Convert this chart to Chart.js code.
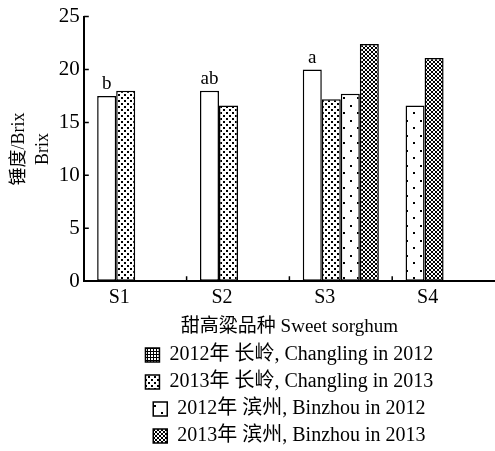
<!DOCTYPE html>
<html>
<head>
<meta charset="utf-8">
<script src="https://cdn.jsdelivr.net/npm/chart.js"></script>
<style>
html, body { margin: 0; padding: 0; background: #fff; }
#wrap { width: 495px; height: 451px; }
</style>
</head>
<body>
<div id="wrap"><canvas id="BarChart"></canvas></div>
<script>
var categories = ['S1', 'S2', 'S3', 'S4'];
var seriesNames = [
    '2012年 长岭, Changling in 2012',
    '2013年 长岭, Changling in 2013',
    '2012年 滨州, Binzhou in 2012',
    '2013年 滨州, Binzhou in 2013'
];
var changling2012 = [17.5, 18.0, 20.0, null];
var changling2013 = [18.0, 16.6, 17.2, null];
var binzhou2012 = [null, null, 17.7, 16.6];
var binzhou2013 = [null, null, 22.4, 21.1];
var letters = ['b', 'ab', 'a', ''];
var yTicks = [0, 5, 10, 15, 20, 25];

var FONT = '"Liberation Serif", "Noto Sans CJK SC", serif';

var canvas = document.getElementById('BarChart');
var mainCtx = canvas.getContext('2d');

// small tiles for the hatch fills
function makePattern(w, h, draw) {
    var c = document.createElement('canvas');
    c.width = w;
    c.height = h;
    var g = c.getContext('2d');
    g.fillStyle = '#fff';
    g.fillRect(0, 0, w, h);
    g.fillStyle = '#000';
    draw(g);
    return mainCtx.createPattern(c, 'repeat');
}

var dots = makePattern(6, 6, function (g) {
    g.fillRect(1, 1, 2, 2);
    g.fillRect(4, 4, 2, 2);
});
var sparse = makePattern(14, 15, function (g) {
    g.fillRect(0, 0, 2, 2);
    g.fillRect(7, 7, 2, 2);
});
var cross = makePattern(4, 4, function (g) {
    g.fillRect(0, 0, 1, 1);
    g.fillRect(1, 1, 1, 1);
    g.fillRect(2, 2, 1, 1);
    g.fillRect(3, 3, 1, 1);
    g.fillRect(3, 0, 1, 1);
    g.fillRect(2, 1, 1, 1);
    g.fillRect(1, 2, 1, 1);
    g.fillRect(0, 3, 1, 1);
});
var grid = makePattern(3, 3, function (g) {
    g.fillRect(0, 0, 3, 1);
    g.fillRect(0, 0, 1, 3);
});

var allSeries = [changling2012, changling2013, binzhou2012, binzhou2013];
var barFills = ['#fff', dots, sparse, cross];
var legendFills = [grid, dots, sparse, cross];

// bars of a category sit side by side from the left, only where a value exists
var datasets = [];
for (var k = 0; k < allSeries.length; k++) {
    var vals = [];
    var fills = [];
    for (var i = 0; i < categories.length; i++) {
        var present = [];
        for (var s = 0; s < allSeries.length; s++) {
            if (allSeries[s][i] != null) present.push(s);
        }
        if (k < present.length) {
            vals.push(allSeries[present[k]][i]);
            fills.push(barFills[present[k]]);
        } else {
            vals.push(null);
            fills.push('#fff');
        }
    }
    datasets.push({
        data: vals,
        backgroundColor: fills,
        borderColor: '#000',
        borderWidth: 1.5,
        borderSkipped: false,
        categoryPercentage: 0.74,
        barPercentage: 1.0
    });
}

var letterPlugin = {
    id: 'letters',
    afterDatasetsDraw: function (chart) {
        var meta = chart.getDatasetMeta(0);
        var ctx = chart.ctx;
        ctx.save();
        ctx.font = '19px ' + FONT;
        ctx.fillStyle = '#000';
        ctx.textAlign = 'center';
        ctx.textBaseline = 'bottom';
        meta.data.forEach(function (bar, i) {
            if (letters[i]) ctx.fillText(letters[i], bar.x, bar.y - 2);
        });
        ctx.restore();
    }
};

var innerTicks = {
    id: 'innerTicks',
    afterDraw: function (chart) {
        var ctx = chart.ctx;
        var x = chart.scales.x;
        var y = chart.scales.y;
        ctx.save();
        ctx.strokeStyle = '#000';
        ctx.lineWidth = 1.5;
        ctx.beginPath();
        yTicks.forEach(function (v) {
            var py = y.getPixelForValue(v);
            ctx.moveTo(x.left, py);
            ctx.lineTo(x.left + 5, py);
        });
        for (var i = 0; i < categories.length - 1; i++) {
            var px = (x.getPixelForValue(i) + x.getPixelForValue(i + 1)) / 2;
            ctx.moveTo(px, y.bottom);
            ctx.lineTo(px, y.bottom - 5);
        }
        ctx.stroke();
        ctx.restore();
    }
};

var config = {
    type: 'bar',
    data: {
        labels: categories,
        datasets: datasets
    },
    options: {
        responsive: true,
        maintainAspectRatio: false,
        animation: false,
        layout: { padding: { left: 8, right: 0, top: 6, bottom: -5 } },
        scales: {
            x: {
                grid: { display: true, drawOnChartArea: false, drawTicks: false },
                border: { color: '#000', width: 2 },
                ticks: {
                    color: '#000',
                    font: { family: FONT, size: 20 },
                    padding: 5,
                    labelOffset: -16
                },
                title: {
                    display: true,
                    text: '甜高粱品种 Sweet sorghum',
                    color: '#000',
                    font: { family: FONT, size: 19 },
                    padding: { top: 0, bottom: 0 }
                }
            },
            y: {
                min: 0,
                max: 25,
                grid: { display: true, drawOnChartArea: false, drawTicks: false },
                border: { color: '#000', width: 2 },
                ticks: {
                    stepSize: 5,
                    color: '#000',
                    font: { family: FONT, size: 21 },
                    padding: 4
                },
                title: {
                    display: true,
                    text: ['锤度/Brix', 'Brix'],
                    color: '#000',
                    font: { family: FONT, size: 18, lineHeight: 1.3 },
                    padding: 0
                }
            }
        },
        plugins: {
            tooltip: { enabled: false },
            legend: {
                display: true,
                position: 'bottom',
                fullSize: false,
                align: 'center',
                onClick: null,
                labels: {
                    color: '#000',
                    font: { family: FONT, size: 20 },
                    boxWidth: 14,
                    boxHeight: 14,
                    padding: 7,
                    generateLabels: function () {
                        return seriesNames.map(function (n, s) {
                            return {
                                text: n,
                                fillStyle: legendFills[s],
                                strokeStyle: '#000',
                                lineWidth: 1.5,
                                hidden: false,
                                datasetIndex: s
                            };
                        });
                    }
                }
            }
        }
    },
    plugins: [letterPlugin, innerTicks]
};

var barChart = new Chart(canvas, config);
</script>
</body>
</html>
